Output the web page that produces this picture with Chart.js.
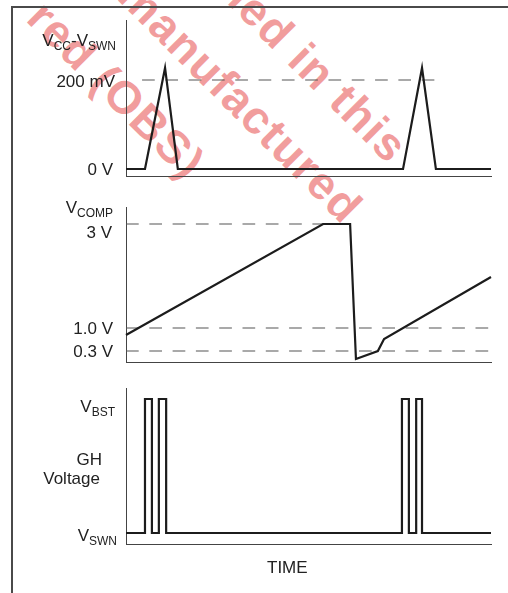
<!DOCTYPE html>
<html>
<head>
<meta charset="utf-8">
<script src="https://cdn.jsdelivr.net/npm/chart.js@4"></script>
<style>
  body{margin:0;background:#fff;}
  #wrap{position:relative;width:508px;height:593px;overflow:hidden;font-family:Arial,"Liberation Sans",sans-serif;color:#222;}
  canvas{position:absolute;left:0;top:0;}
  .frame{position:absolute;left:11px;top:6px;width:600px;height:700px;border-left:2px solid #4a4a4a;border-top:2px solid #4a4a4a;}
  .lbl{position:absolute;font-size:17px;line-height:17px;white-space:nowrap;text-align:right;}
  .lbl span{font-size:12px;position:relative;top:4px;}
  .wm{position:absolute;font:bold 46px Arial,"Liberation Sans",sans-serif;letter-spacing:1.5px;color:rgba(228,60,60,0.5);line-height:46px;white-space:nowrap;transform-origin:0 50%;transform:rotate(45deg);}
</style>
</head>
<body>
<div id="wrap">
  <div class="wm" style="left:36px;top:-14px">red (OBS)</div>
  <div class="wm" style="left:127px;top:-36px">manufactured</div>
  <div class="wm" style="left:226px;top:-43px">ned in this</div>
  <div class="frame"></div>
  <canvas id="c1" width="508" height="593"></canvas>
  <canvas id="c2" width="508" height="593"></canvas>
  <canvas id="c3" width="508" height="593"></canvas>

  <div class="lbl" style="right:392px;top:31.7px">V<span>CC</span>-V<span>SWN</span></div>
  <div class="lbl" style="right:393px;top:72.7px">200 mV</div>
  <div class="lbl" style="right:395px;top:161.2px">0 V</div>

  <div class="lbl" style="right:395px;top:199.2px">V<span>COMP</span></div>
  <div class="lbl" style="right:396px;top:223.7px">3 V</div>
  <div class="lbl" style="right:395px;top:319.7px">1.0 V</div>
  <div class="lbl" style="right:395px;top:343.2px">0.3 V</div>

  <div class="lbl" style="right:393px;top:397.7px">V<span>BST</span></div>
  <div class="lbl" style="right:406px;top:451.2px">GH</div>
  <div class="lbl" style="right:408px;top:469.7px">Voltage</div>
  <div class="lbl" style="right:391px;top:526.7px">V<span>SWN</span></div>

  <div class="lbl" style="left:267px;top:558.7px">TIME</div>
</div>

<script>
// time runs 0..100 across the plot width (schematic, no units)

// VCC - VSWN, in mV
const swTime = [0, 5.2, 10.7, 14.2, 75.9, 81.1, 84.9, 100];
const swMv   = [0, 0, 227, 0, 0, 227, 0, 0];
const swRefs = [200];
const swRefFrom = [4.4];
const swRefTo   = [84.9];

// VCOMP, schematic level (the figure is not drawn to scale)
const compTime = [0, 54.0, 61.4, 63.0, 69.0, 70.7, 100];
const compLvl  = [2.7, 13.8, 13.8, 0.3, 1.1, 2.3, 8.5];
const compRefs = [13.8, 3.4, 1.1];   // 3 V, 1.0 V, 0.3 V
const compRefFrom = [0, 0, 0];
const compRefTo   = [61.4, 100, 100];

// GH voltage: 0 = VSWN, 1 = VBST (held until the next edge)
const ghTime = [0, 5.2, 7.1, 9.0, 11.0, 75.6, 77.5, 79.5, 81.1, 100];
const ghLvl  = [0, 1, 0, 1, 0, 1, 0, 1, 0, 0];

const DASH = [12.7, 10.6];

function pts(xs, ys){
  return xs.map((x,i)=>({x:x, y:ys[i]}));
}

function wave(xs, ys, extra){
  return Object.assign({
    data: pts(xs, ys),
    borderColor: '#1c1c1c',
    borderWidth: 2.2,
    clip: false,
    order: 0
  }, extra || {});
}

function refLines(levels, from, to){
  return levels.map((lv,i)=>({
    data: [{x:from[i], y:lv}, {x:to[i], y:lv}],
    borderColor: '#555',
    borderWidth: 1.2,
    borderDash: DASH,
    clip: false,
    order: 1
  }));
}

// area = [left, top, right, bottom] of the plot inside the 508x593 page
function panel(id, area, yMin, yMax, datasets){
  new Chart(document.getElementById(id), {
    type: 'line',
    data: { datasets: datasets },
    options: {
      responsive: false,
      animation: false,
      events: [],
      layout: { padding: { left: area[0], top: area[1], right: 508 - area[2], bottom: 593 - area[3] } },
      plugins: { legend: { display: false }, tooltip: { enabled: false } },
      elements: { point: { radius: 0 }, line: { tension: 0 } },
      scales: {
        x: {
          type: 'linear', min: 0, max: 100,
          ticks: { display: false }, grid: { display: false },
          border: { color: '#444', width: 1 },
          afterFit: s => { s.height = 0; }
        },
        y: {
          type: 'linear', min: yMin, max: yMax,
          ticks: { display: false }, grid: { display: false },
          border: { color: '#444', width: 1 },
          afterFit: s => { s.width = 0; }
        }
      }
    }
  });
}

panel('c1', [126, 20, 491, 176], -15.7, 334.8,
  [wave(swTime, swMv)].concat(refLines(swRefs, swRefFrom, swRefTo)));

panel('c2', [126, 207, 491, 362], 0, 15.5,
  [wave(compTime, compLvl)].concat(refLines(compRefs, compRefFrom, compRefTo)));

panel('c3', [126, 388, 491, 544], -0.082, 1.082,
  [wave(ghTime, ghLvl, { stepped: true })]);
</script>
</body>
</html>
